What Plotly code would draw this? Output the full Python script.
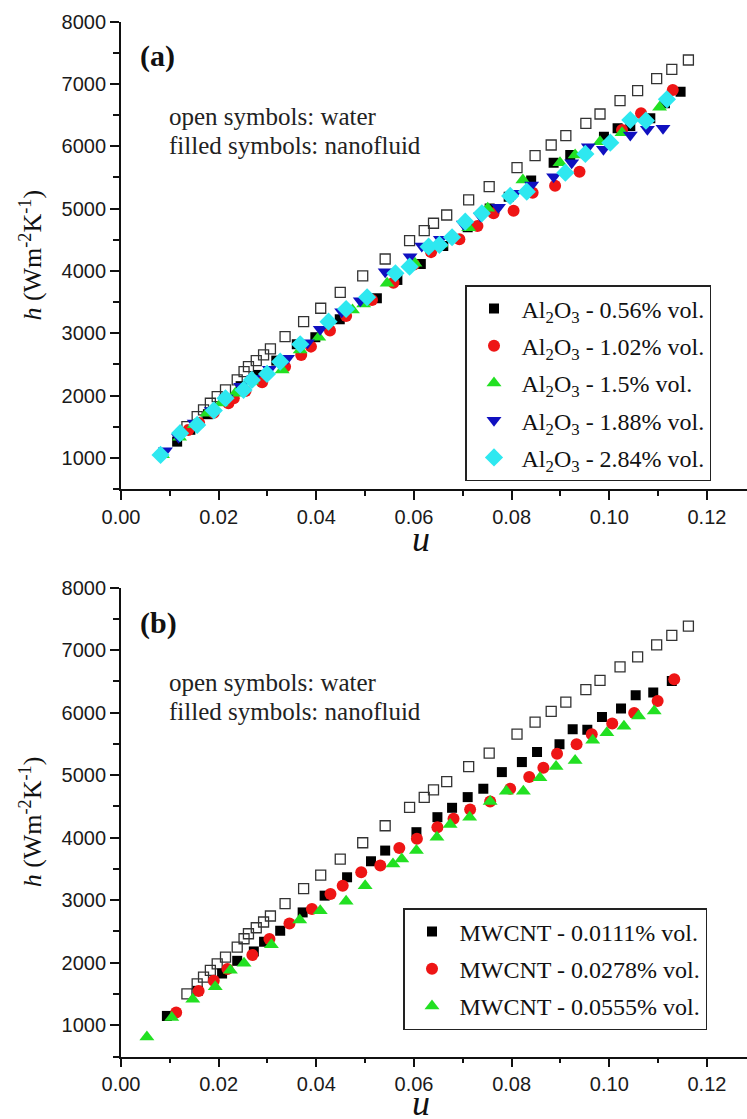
import plotly.graph_objects as go

# ---------------- data ----------------
# water (open squares) - same in both panels
water_u = [0.0135, 0.0156, 0.0169, 0.0183, 0.0197, 0.0214, 0.0238, 0.0252, 0.0261, 0.0277,
           0.0292, 0.0306, 0.0336, 0.0374, 0.0409, 0.0449, 0.0495, 0.0541, 0.0591, 0.0621,
           0.0640, 0.0667, 0.0712, 0.0754, 0.0811, 0.0848, 0.0881, 0.0911, 0.0952, 0.0981,
           0.1022, 0.1058, 0.1097, 0.1128, 0.1162]
water_h = [1501, 1661, 1768, 1876, 1982, 2089, 2250, 2383, 2463, 2559,
           2651, 2747, 2944, 3185, 3400, 3656, 3918, 4190, 4484, 4644,
           4763, 4896, 5137, 5350, 5655, 5847, 6019, 6168, 6367, 6516,
           6730, 6890, 7083, 7233, 7382]

# panel (a) Al2O3 nanofluids
al056_u = [0.0115, 0.0142, 0.0178, 0.0212, 0.0245, 0.0282, 0.0318, 0.0360, 0.0398, 0.0448,
           0.0524, 0.0566, 0.0614, 0.0660, 0.0710, 0.0755, 0.0794, 0.0840, 0.0886, 0.0920,
           0.0989, 0.1017, 0.1043, 0.1084, 0.1114, 0.1146]
al056_h = [1260, 1450, 1700, 1930, 2150, 2330, 2560, 2822, 2935, 3223,
           3560, 3854, 4110, 4400, 4700, 5000, 5190, 5450, 5735, 5859,
           6152, 6287, 6324, 6447, 6688, 6874]

al102_u = [0.0138, 0.0160, 0.0190, 0.0220, 0.0231, 0.0255, 0.0289, 0.0336, 0.0369, 0.0389,
           0.0428, 0.0461, 0.0514, 0.0558, 0.0600, 0.0635, 0.0693, 0.0730, 0.0763, 0.0804,
           0.0843, 0.0889, 0.0939, 0.1026, 0.1065, 0.1130]
al102_h = [1448, 1560, 1725, 1876, 1956, 2073, 2213, 2463, 2651, 2784,
           3041, 3276, 3533, 3810, 4100, 4300, 4507, 4720, 4923, 4965,
           5254, 5366, 5591, 6260, 6528, 6901]

al150_u = [0.0085, 0.0120, 0.0150, 0.0176, 0.0205, 0.0234, 0.0268, 0.0300, 0.0330, 0.0367,
           0.0405, 0.0474, 0.0497, 0.0545, 0.0602, 0.0655, 0.0712, 0.0751, 0.0823, 0.0899,
           0.0930, 0.0981, 0.1026, 0.1103]
al150_h = [1050, 1330, 1530, 1716, 1880, 2036, 2230, 2380, 2410, 2731,
           2935, 3372, 3469, 3800, 4121, 4430, 4693, 5004, 5458, 5735,
           5859, 6072, 6216, 6624]

al188_u = [0.0091, 0.0118, 0.0150, 0.0185, 0.0215, 0.0245, 0.0272, 0.0304, 0.0341, 0.0382,
           0.0408, 0.0452, 0.0490, 0.0541, 0.0592, 0.0616, 0.0654, 0.0701, 0.0736, 0.0773,
           0.0807, 0.0841, 0.0886, 0.0923, 0.0957, 0.0988, 0.1043, 0.1078, 0.1110]
al188_h = [1115, 1330, 1560, 1760, 1960, 2150, 2277, 2420, 2598, 2848,
           3063, 3345, 3522, 3987, 4227, 4399, 4507, 4752, 4880, 5020,
           5244, 5378, 5510, 5735, 5992, 5950, 6179, 6271, 6287]

al284_u = [0.0081, 0.0121, 0.0156, 0.0190, 0.0214, 0.0251, 0.0268, 0.0299, 0.0326, 0.0367,
           0.0425, 0.0461, 0.0504, 0.0562, 0.0591, 0.0630, 0.0652, 0.0678, 0.0705, 0.0739,
           0.0797, 0.0831, 0.0910, 0.0951, 0.1002, 0.1043, 0.1075, 0.1118]
al284_h = [1047, 1395, 1528, 1760, 1956, 2089, 2250, 2346, 2543, 2822,
           3185, 3388, 3576, 3961, 4067, 4388, 4415, 4539, 4789, 4923,
           5201, 5270, 5575, 5875, 6056, 6420, 6409, 6752]

# panel (b) MWCNT nanofluids
mw0111_u = [0.0094, 0.0157, 0.0207, 0.0238, 0.0272, 0.0293, 0.0326, 0.0372, 0.0417, 0.0463,
            0.0512, 0.0541, 0.0605, 0.0648, 0.0678, 0.0710, 0.0742, 0.0780, 0.0821, 0.0852,
            0.0898, 0.0925, 0.0955, 0.0985, 0.1024, 0.1054, 0.1090, 0.1128]
mw0111_h = [1149, 1550, 1827, 2030, 2180, 2335, 2511, 2804, 3072, 3366,
            3622, 3793, 4087, 4327, 4477, 4648, 4782, 5048, 5208, 5368,
            5492, 5732, 5727, 5929, 6064, 6277, 6320, 6506]

mw0278_u = [0.0113, 0.0159, 0.0190, 0.0218, 0.0269, 0.0304, 0.0345, 0.0391, 0.0429, 0.0454,
            0.0492, 0.0531, 0.0570, 0.0606, 0.0648, 0.0681, 0.0715, 0.0756, 0.0797, 0.0836,
            0.0865, 0.0893, 0.0933, 0.0964, 0.1006, 0.1051, 0.1099, 0.1133]
mw0278_h = [1202, 1549, 1710, 1900, 2122, 2378, 2628, 2859, 3100, 3232,
            3445, 3553, 3836, 3981, 4167, 4301, 4450, 4578, 4782, 4968,
            5118, 5343, 5492, 5652, 5824, 5993, 6186, 6534]

mw0555_u = [0.0053, 0.0104, 0.0147, 0.0193, 0.0224, 0.0252, 0.0308, 0.0366, 0.0408, 0.0461,
            0.0500, 0.0557, 0.0575, 0.0605, 0.0647, 0.0674, 0.0714, 0.0756, 0.0789, 0.0824,
            0.0858, 0.0891, 0.0930, 0.0966, 0.0995, 0.1030, 0.1060, 0.1092]
mw0555_h = [812, 1122, 1416, 1614, 1881, 1993, 2287, 2682, 2832, 2981,
            3232, 3580, 3660, 3793, 4006, 4210, 4327, 4578, 4743, 4743,
            4958, 5139, 5235, 5556, 5679, 5780, 5945, 6026]

labels_a = ["Al<sub>2</sub>O<sub>3</sub> - 0.56% vol.",
            "Al<sub>2</sub>O<sub>3</sub> - 1.02% vol.",
            "Al<sub>2</sub>O<sub>3</sub> - 1.5% vol.",
            "Al<sub>2</sub>O<sub>3</sub> - 1.88% vol.",
            "Al<sub>2</sub>O<sub>3</sub> - 2.84% vol."]
labels_b = ["MWCNT - 0.0111% vol.",
            "MWCNT - 0.0278% vol.",
            "MWCNT - 0.0555% vol."]

x_ticks = [0.00, 0.02, 0.04, 0.06, 0.08, 0.10, 0.12]
x_range = [0, 0.1282]
y_range = [500, 8000]

# ---------------- styles ----------------
SERIF = "Liberation Serif, Times New Roman, serif"
SANS = "Liberation Sans, Arial, sans-serif"
BLACK = "#000000"
RED = "#ee1515"
GREEN = "#22e022"
BLUE = "#1010c0"
CYAN = "#2ee8f0"

W, H = 747, 1119
L = 121
PW = W - L  # plot width in px

fig = go.Figure()

def water_trace(xa, ya):
    return go.Scatter(x=water_u, y=water_h, mode="markers", xaxis=xa, yaxis=ya,
                      showlegend=False,
                      marker=dict(symbol="square-open", size=10, color="#333333",
                                  line=dict(width=1.3, color="#333333")))

fig.add_trace(water_trace("x", "y"))
series_a = [
    (al056_u, al056_h, "square", 10, BLACK),
    (al102_u, al102_h, "circle", 12, RED),
    (al150_u, al150_h, "triangle-up", 13, GREEN),
    (al188_u, al188_h, "triangle-down", 13, BLUE),
    (al284_u, al284_h, "diamond", 14, CYAN),
]
for i, ((u, h, sym, sz, col), name) in enumerate(zip(series_a, labels_a)):
    fig.add_trace(go.Scatter(x=u, y=h, mode="markers", name=name, xaxis="x", yaxis="y",
                             legend="legend", legendgroup=f"a{i}",
                             marker=dict(symbol=sym, size=sz, color=col, line=dict(width=0))))

fig.add_trace(water_trace("x2", "y2"))
series_b = [
    (mw0111_u, mw0111_h, "square", 10, BLACK),
    (mw0278_u, mw0278_h, "circle", 12, RED),
    (mw0555_u, mw0555_h, "triangle-up", 13, GREEN),
]
for i, ((u, h, sym, sz, col), name) in enumerate(zip(series_b, labels_b)):
    fig.add_trace(go.Scatter(x=u, y=h, mode="markers", name=name, xaxis="x2", yaxis="y2",
                             legend="legend2", legendgroup=f"b{i}",
                             marker=dict(symbol=sym, size=sz, color=col, line=dict(width=0))))

tickfont = dict(family=SANS, size=20, color="#1a1a1a")

def xbottom(anchor):
    return dict(range=x_range, domain=[0, 1], anchor=anchor, tickmode="array",
                tickvals=x_ticks, ticktext=[f"{v:.2f}" for v in x_ticks],
                ticks="outside", ticklen=9, tickwidth=1.5, tickcolor="#111",
                minor=dict(tickmode="linear", tick0=0, dtick=0.01, ticks="outside",
                           ticklen=5, tickwidth=1.5, tickcolor="#111"),
                showline=True, linewidth=1.8, linecolor="#111", showgrid=False,
                zeroline=False, tickfont=tickfont, automargin=False)

def xtop(over, anchor):
    return dict(range=x_range, domain=[0, 1], overlaying=over, anchor=anchor, side="top",
                tickmode="linear", tick0=0, dtick=0.02, ticks="inside", ticklen=8,
                tickwidth=1.5, tickcolor="#111",
                minor=dict(tickmode="linear", tick0=0, dtick=0.01, ticks="inside",
                           ticklen=6, tickwidth=1.5, tickcolor="#111"),
                showticklabels=False, showline=True, linewidth=1.8, linecolor="#111",
                showgrid=False, zeroline=False, automargin=False)

def yleft(anchor, dom):
    return dict(range=y_range, domain=dom, anchor=anchor, tickmode="linear", tick0=0,
                dtick=1000, ticks="outside", ticklen=9, tickwidth=1.5, tickcolor="#111",
                minor=dict(tickmode="linear", tick0=500, dtick=1000, ticks="outside",
                           ticklen=6, tickwidth=1.5, tickcolor="#111"),
                showline=True, linewidth=1.8, linecolor="#111", showgrid=False,
                zeroline=False, tickfont=tickfont, automargin=False,
                title=dict(text="<i>h</i> (Wm<sup>-2</sup>K<sup>-1</sup>)",
                           font=dict(family=SERIF, size=26, color="#111"), standoff=12))

def yright(over, anchor, dom):
    return dict(range=y_range, domain=dom, overlaying=over, anchor=anchor, side="right",
                tickmode="linear", tick0=0, dtick=1000, ticks="inside", ticklen=6,
                tickwidth=1.5, tickcolor="#111", showticklabels=False, showline=False,
                showgrid=False, zeroline=False, automargin=False)

# axis frames in pixels: panel a y 21.5..489, panel b y 587.5..1056.5
dom_a = [1 - 489 / H, 1 - 21.5 / H]
dom_b = [1 - 1056.5 / H, 1 - 587.5 / H]

legend_common = dict(font=dict(family=SERIF, size=24, color="#111"), bgcolor="white",
                     bordercolor="#222", borderwidth=1.5, xanchor="left", yanchor="top",
                     itemclick=False, tracegroupgap=3, itemwidth=45)

fig.update_layout(
    width=W, height=H,
    margin=dict(l=L, r=0, t=0, b=0, autoexpand=False),
    paper_bgcolor="white", plot_bgcolor="white",
    xaxis=xbottom("y"),
    yaxis=yleft("x", dom_a),
    xaxis2=xbottom("y2"),
    yaxis2=yleft("x2", dom_b),
    xaxis3=xtop("x", "y"),
    yaxis3=yright("y", "x", dom_a),
    xaxis4=xtop("x2", "y2"),
    yaxis4=yright("y2", "x2", dom_b),
    legend=dict(x=(465 - L) / PW, y=1 - 285 / H, xref="paper", yref="paper", **legend_common),
    legend2=dict(x=(403 - L) / PW, y=1 - 908 / H, xref="paper", yref="paper", **legend_common),
    showlegend=True,
)

# panel letters, notes and x-axis titles (positions in pixels of each panel frame)
panels = [("x", "y", "(a)", 21.5, 489, 539), ("x2", "y2", "(b)", 587.5, 1056.5, 1103)]
for xa, ya, letter, top, bot, ucen in panels:
    ph = bot - top
    fig.add_annotation(text=f"<b>{letter}</b>", xref=f"{xa} domain", yref=f"{ya} domain",
                       x=(138 - L) / PW, y=(bot - (top + 35)) / ph, xanchor="left",
                       yanchor="middle", showarrow=False,
                       font=dict(family=SERIF, size=30, color="#111"))
    fig.add_annotation(text="open symbols: water", xref=f"{xa} domain", yref=f"{ya} domain",
                       x=(167 - L) / PW, y=(bot - (top + 95)) / ph, xanchor="left",
                       yanchor="middle", showarrow=False,
                       font=dict(family=SERIF, size=25, color="#222"))
    fig.add_annotation(text="filled symbols: nanofluid", xref=f"{xa} domain",
                       yref=f"{ya} domain", x=(167 - L) / PW, y=(bot - (top + 124)) / ph,
                       xanchor="left", yanchor="middle", showarrow=False,
                       font=dict(family=SERIF, size=25, color="#222"))
    fig.add_annotation(text="<i>u</i>", xref=f"{xa} domain", yref=f"{ya} domain",
                       x=(421 - L) / PW, y=(bot - ucen) / ph, xanchor="center",
                       yanchor="middle", showarrow=False,
                       font=dict(family=SERIF, size=36, color="#111"))

fig.write_html("out.html", config={"displayModeBar": False},
               post_script="document.body.style.margin='0';document.body.style.padding='0';")
